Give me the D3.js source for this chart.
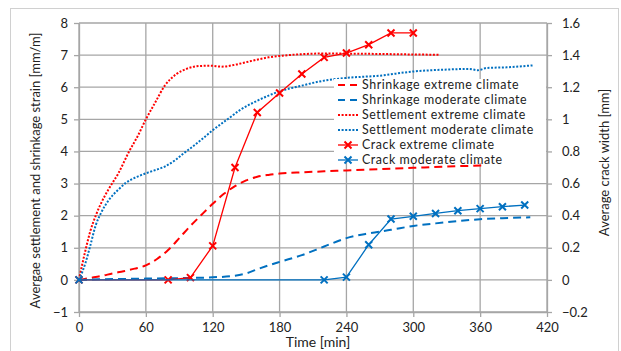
<!DOCTYPE html>
<html>
<head>
<meta charset="utf-8">
<script src="https://cdn.jsdelivr.net/npm/d3@7"></script>
<style>
  html, body { margin: 0; padding: 0; background: #fff; }
  svg { display: block; font-family: Lato, "Open Sans", sans-serif; }
</style>
</head>
<body>
<svg id="chart" width="621" height="351"></svg>
<script>
// Time axis ticks [min]
const timeTicks = [0, 60, 120, 180, 240, 300, 360, 420];
// Left axis ticks [mm/m] and right axis ticks [mm]
const strainTicks = [-1, 0, 1, 2, 3, 4, 5, 6, 7, 8];
const crackTicks = [-0.2, 0, 0.2, 0.4, 0.6, 0.8, 1, 1.2, 1.4, 1.6];

// Shrinkage strain, extreme climate: [time, mm/m]
const shrinkExtreme = [[0,0],[10,0.06],[20,0.12],[30,0.2],[40,0.27],[50,0.35],[60,0.45],[70,0.65],[80,0.93],[90,1.3],[100,1.68],[110,2.03],[120,2.37],[130,2.68],[140,2.92],[150,3.1],[160,3.21],[170,3.27],[180,3.31],[200,3.35],[220,3.38],[240,3.41],[270,3.45],[300,3.49],[330,3.53],[361,3.56]];
// Shrinkage strain, moderate climate
const shrinkModerate = [[0,0],[20,0.02],[40,0.03],[60,0.04],[80,0.05],[100,0.06],[120,0.08],[140,0.13],[150,0.2],[160,0.33],[170,0.45],[180,0.56],[200,0.77],[220,1.04],[240,1.3],[260,1.45],[280,1.56],[300,1.68],[320,1.76],[340,1.83],[360,1.89],[380,1.92],[405,1.95]];
// Settlement strain, extreme climate
const settleExtreme = [[0,0],[3,0.5],[6,0.95],[10,1.5],[15,2.0],[20,2.4],[27,2.85],[35,3.3],[45,4.0],[53,4.5],[60,5.0],[68,5.5],[77,6.05],[87,6.4],[97,6.58],[108,6.66],[118,6.67],[128,6.64],[140,6.7],[155,6.82],[170,6.93],[185,6.99],[200,7.03],[220,7.05],[260,7.04],[300,7.02],[324,7.01]];
// Settlement strain, moderate climate
const settleModerate = [[0,0],[3,0.25],[6,0.55],[10,1.05],[15,1.7],[20,2.1],[27,2.5],[35,2.8],[42,3.02],[50,3.18],[57,3.28],[65,3.38],[77,3.53],[86,3.72],[95,3.97],[102,4.15],[110,4.37],[120,4.66],[134,5.02],[145,5.3],[160,5.58],[180,5.87],[200,6.05],[216,6.18],[240,6.29],[270,6.36],[300,6.49],[330,6.55],[350,6.57],[358,6.53],[366,6.6],[384,6.62],[407,6.68]];
// Crack width, extreme climate: [time, mm]
const crackExtreme = [[0,0],[80,0],[100,0.014],[120,0.212],[140,0.70],[160,1.043],[180,1.164],[200,1.282],[220,1.386],[240,1.413],[260,1.465],[280,1.538],[300,1.538]];
// Crack width, moderate climate
const crackModerate = [[0,0],[220,0],[240,0.017],[260,0.219],[280,0.379],[300,0.396],[320,0.414],[340,0.431],[360,0.444],[380,0.456],[400,0.466]];

const legendLabels = ["Shrinkage extreme climate", "Shrinkage moderate climate", "Settlement extreme climate",
  "Settlement moderate climate", "Crack extreme climate", "Crack moderate climate"];

const RED = "#ff0000", BLUE = "#0070c0";
const svg = d3.select("#chart");

// Chart frame
svg.append("rect").attr("x", 10.5).attr("y", 8.5).attr("width", 608).attr("height", 360)
  .attr("fill", "#fff").attr("stroke", "#d0d0d0").attr("stroke-width", 1);

const plot = { left: 79, right: 547, top: 23, bottom: 312 };
const x = d3.scaleLinear().domain([0, 420]).range([plot.left, plot.right]);
const yL = d3.scaleLinear().domain([-1, 8]).range([plot.bottom, plot.top]);
const yR = d3.scaleLinear().domain([-0.2, 1.6]).range([plot.bottom, plot.top]);

const gridColor = "#a6a6a6";
// Gridlines
const grid = svg.append("g");
grid.selectAll("line.h").data(strainTicks).join("line")
  .attr("x1", plot.left).attr("x2", plot.right)
  .attr("y1", d => yL(d)).attr("y2", d => yL(d))
  .attr("stroke", gridColor).attr("stroke-width", 1.3);
grid.selectAll("line.v").data(timeTicks).join("line")
  .attr("y1", plot.top).attr("y2", plot.bottom)
  .attr("x1", d => x(d)).attr("x2", d => x(d))
  .attr("stroke", gridColor).attr("stroke-width", 1.3);

// Axes
const fontSize = 13, tickColor = "#222";
function styleAxis(g) {
  g.select(".domain").attr("stroke", gridColor).attr("stroke-width", 1.3);
  g.selectAll(".tick line").attr("stroke", gridColor).attr("stroke-width", 1.3);
  g.selectAll(".tick text").attr("fill", tickColor).style("font-size", fontSize + "px")
    .style("font-family", "Lato, 'Open Sans', sans-serif");
}
svg.append("g").attr("transform", `translate(0,${plot.bottom})`)
  .call(d3.axisBottom(x).tickValues(timeTicks).tickSizeInner(5).tickSizeOuter(0).tickPadding(6).tickFormat(d3.format("d")))
  .call(styleAxis);
svg.append("g").attr("transform", `translate(${plot.left},0)`)
  .call(d3.axisLeft(yL).tickValues(strainTicks).tickSizeInner(5).tickSizeOuter(0).tickPadding(6).tickFormat(d3.format("d")))
  .call(styleAxis);
svg.append("g").attr("transform", `translate(${plot.right},0)`)
  .call(d3.axisRight(yR).tickValues(crackTicks).tickSizeInner(5).tickSizeOuter(0).tickPadding(10).tickFormat(d => d3.format("")(+d.toFixed(1))))
  .call(styleAxis);

// Axis titles
svg.append("text").attr("x", (plot.left + plot.right) / 2 + 5).attr("y", 347)
  .attr("text-anchor", "middle").style("font-size", "14px").attr("fill", tickColor)
  .text("Time [min]");
svg.append("text").attr("transform", `translate(40,${(plot.top + plot.bottom) / 2 + 3}) rotate(-90)`)
  .attr("text-anchor", "middle").style("font-size", fontSize + "px").attr("fill", tickColor)
  .text("Avergae settlement and shrinkage strain [mm/m]");
svg.append("text").attr("transform", `translate(609,${(plot.top + plot.bottom) / 2 - 5}) rotate(-90)`)
  .attr("text-anchor", "middle").style("font-size", fontSize + "px").attr("fill", tickColor)
  .text("Average crack width [mm]");

// Series
const smoothL = d3.line().x(d => x(d[0])).y(d => yL(d[1])).curve(d3.curveMonotoneX);
const straightR = d3.line().x(d => x(d[0])).y(d => yR(d[1]));
const DASH = "8,5", DOT = "2,1.6";

const series = svg.append("g");
series.append("path").attr("d", smoothL(shrinkExtreme)).attr("fill", "none")
  .attr("stroke", RED).attr("stroke-width", 2).attr("stroke-dasharray", DASH);
series.append("path").attr("d", smoothL(shrinkModerate)).attr("fill", "none")
  .attr("stroke", BLUE).attr("stroke-width", 2).attr("stroke-dasharray", DASH);
series.append("path").attr("d", smoothL(settleExtreme)).attr("fill", "none")
  .attr("stroke", RED).attr("stroke-width", 2).attr("stroke-dasharray", DOT);
series.append("path").attr("d", smoothL(settleModerate)).attr("fill", "none")
  .attr("stroke", BLUE).attr("stroke-width", 2).attr("stroke-dasharray", DOT);

function xMarker(g, cx, cy, color) {
  const s = 3.5;
  g.append("path").attr("d", `M${cx - s},${cy - s}L${cx + s},${cy + s}M${cx - s},${cy + s}L${cx + s},${cy - s}`)
    .attr("stroke", color).attr("stroke-width", 2).attr("fill", "none");
}
[[crackExtreme, RED], [crackModerate, BLUE]].forEach(([data, color]) => {
  series.append("path").attr("d", straightR(data)).attr("fill", "none")
    .attr("stroke", color).attr("stroke-width", 1.3);
  const mg = series.append("g");
  data.forEach(d => xMarker(mg, x(d[0]), yR(d[1]), color));
});

// Legend
const rowGap = 15;
const lg = svg.append("g").attr("transform", "translate(334,75)");
lg.append("rect").attr("x", 0).attr("y", 4).attr("width", 212).attr("height", 84).attr("fill", "#fff");
const legendStyles = [
  { color: RED, dash: "7,5", w: 2, marker: false },
  { color: BLUE, dash: "7,5", w: 2, marker: false },
  { color: RED, dash: DOT, w: 2, marker: false },
  { color: BLUE, dash: DOT, w: 2, marker: false },
  { color: RED, dash: null, w: 1.3, marker: true },
  { color: BLUE, dash: null, w: 1.3, marker: true }
];
legendLabels.forEach((label, i) => {
  const cy = 10 + i * rowGap;
  const st = legendStyles[i];
  lg.append("line").attr("x1", 4).attr("x2", 24).attr("y1", cy).attr("y2", cy)
    .attr("stroke", st.color).attr("stroke-width", st.w).attr("stroke-dasharray", st.dash);
  if (st.marker) xMarker(lg, 14, cy, st.color);
  lg.append("text").attr("x", 28).attr("y", cy + 4.3).style("font-size", "12.4px")
    .style("letter-spacing", "0.55px").attr("fill", tickColor).text(label);
});
</script>
</body>
</html>
